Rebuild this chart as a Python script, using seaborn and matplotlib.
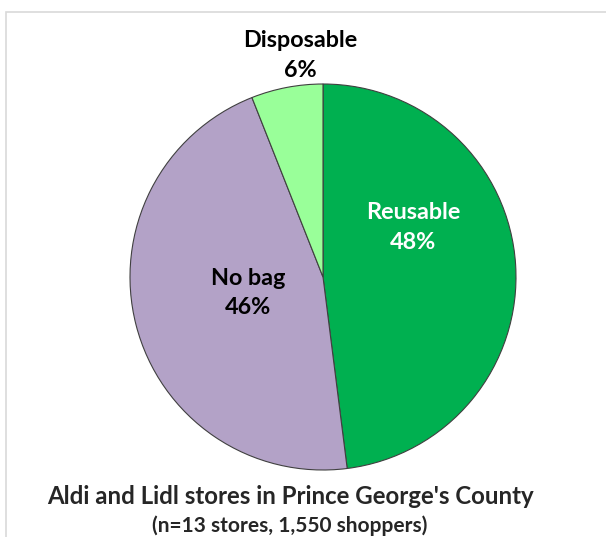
import matplotlib
matplotlib.use('Agg')
import matplotlib.pyplot as plt
from matplotlib.patches import Rectangle
import seaborn as sns

sns.set_style('white')
plt.rcParams['font.family'] = ['Lato', 'DejaVu Sans']

# data
categories = ['Reusable', 'No bag', 'Disposable']
shares = [48, 46, 6]
colors = ['#00B050', '#B3A2C7', '#99FF99']
label_colors = ['white', 'black', 'black']

W, H = 606, 537
fig = plt.figure(figsize=(W / 100, H / 100), dpi=100)

# light grey chart frame
fig.patches.append(Rectangle((6 / W, -0.05), 1.0, 1 - 12 / H + 0.05,
                             transform=fig.transFigure, fill=False,
                             edgecolor='#D9D9D9', linewidth=1.2))

cx, cy, r = 323, 277, 193
ax = fig.add_axes([(cx - r) / W, (H - cy - r) / H, 2 * r / W, 2 * r / H])
ax.pie(shares, colors=colors, startangle=90, counterclock=False,
       wedgeprops=dict(edgecolor='#404040', linewidth=0.8))
ax.set_xlim(-1, 1)
ax.set_ylim(-1, 1)
ax.set_aspect('equal')
ax.axis('off')

# label positions in pixels of the reference
label_px = [(413, 227.5), (248, 293), (300, 55.5)]
for cat, val, col, (px, py) in zip(categories, shares, label_colors, label_px):
    ax.text((px - cx) / r, (cy - py) / r, f'{cat}\n{val}%', ha='center', va='center',
            fontsize=16.8, fontweight='bold', color=col, linespacing=1.5,
            clip_on=False)

fig.text(290 / W, 1 - 497 / H, "Aldi and Lidl stores in Prince George's County",
         ha='center', va='center', fontsize=17.3, fontweight='bold')
fig.text(290 / W, 1 - 526 / H, '(n=13 stores, 1,550 shoppers)',
         ha='center', va='center', fontsize=15, fontweight='bold')

fig.savefig('out.png', dpi=100)
